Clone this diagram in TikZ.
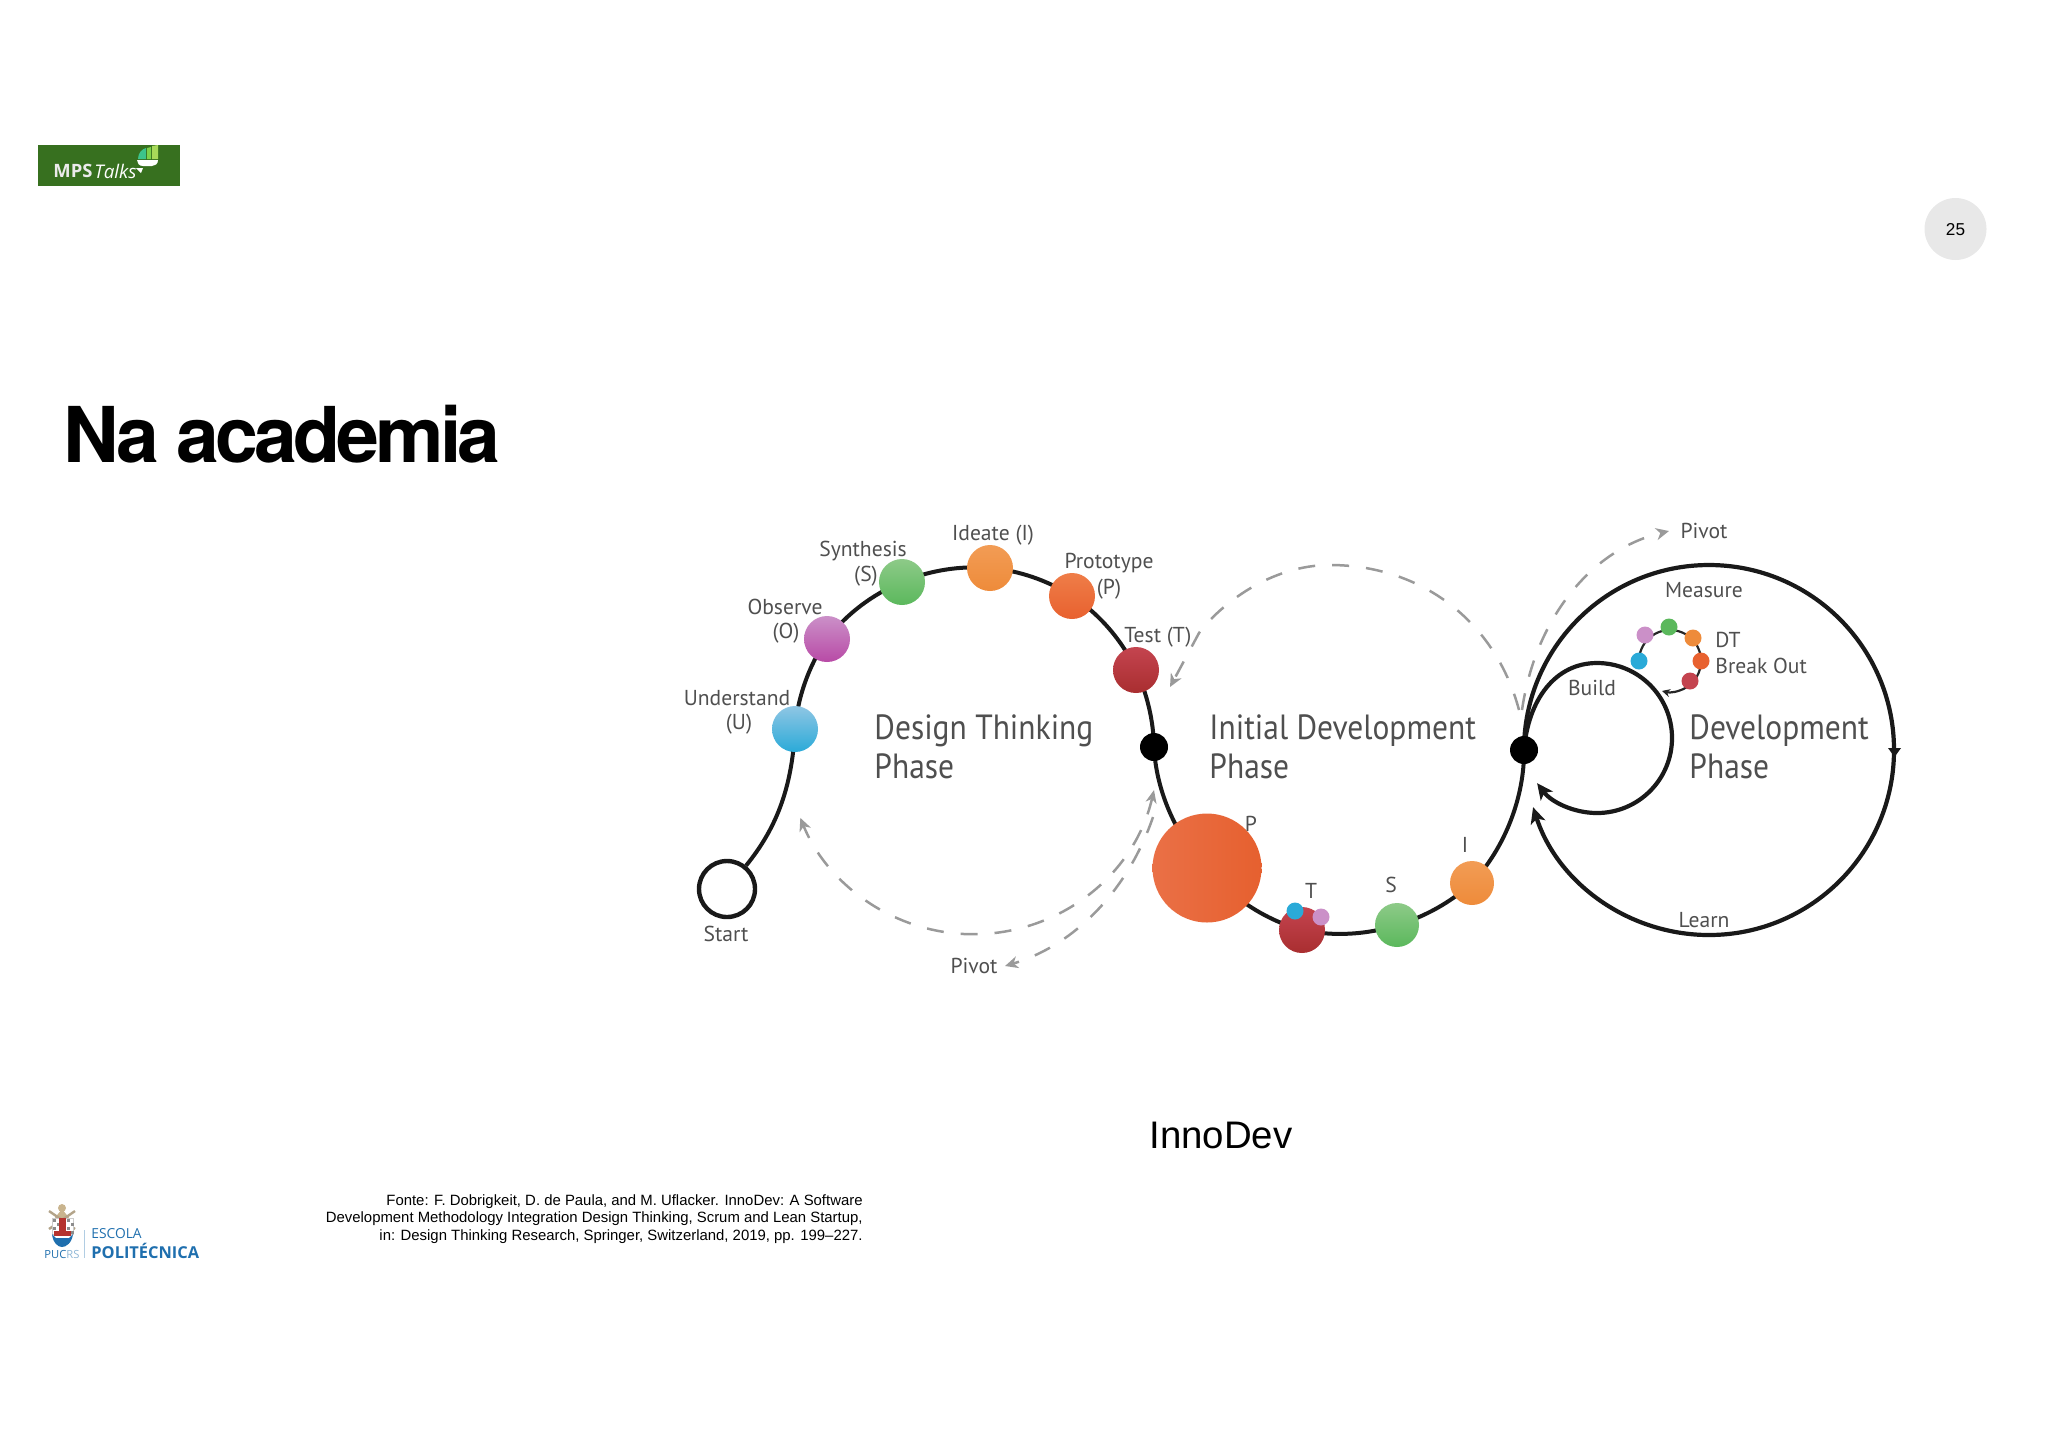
\documentclass[tikz,border=0pt]{standalone}
\usepackage{fontspec}
\setmainfont{Liberation Sans}
\newfontfamily\heros{TeX Gyre Heros}[LetterSpace=-5]
\newfontfamily\diag{PT Sans}
\newfontfamily\diagphase{PT Sans}[FakeStretch=0.9]
\newfontfamily\logofont{Open Sans}
\usetikzlibrary{arrows.meta,backgrounds,calc}
\definecolor{lblgrey}{HTML}{4F4F4F}
\definecolor{dashgrey}{HTML}{9A9A9A}
\definecolor{mpsgreen}{HTML}{37701F}
\definecolor{pucblue}{HTML}{1F6FAE}
\definecolor{cresttan}{HTML}{C9B48E}
\definecolor{crestred}{HTML}{B5332E}
\definecolor{leafA}{HTML}{3CC48C}\definecolor{leafB}{HTML}{7ED24A}\definecolor{leafC}{HTML}{A8D95A}
\definecolor{uTop}{HTML}{8FC6E4}\definecolor{uBot}{HTML}{2AAAD8}
\definecolor{oTop}{HTML}{CB90C8}\definecolor{oBot}{HTML}{B84AA6}
\definecolor{sTop}{HTML}{8DCA88}\definecolor{sBot}{HTML}{5BB85C}
\definecolor{iTop}{HTML}{F29C55}\definecolor{iBot}{HTML}{EE8B3A}
\definecolor{pTop}{HTML}{EF7D48}\definecolor{pBot}{HTML}{E8612F}
\definecolor{tTop}{HTML}{C4444F}\definecolor{tBot}{HTML}{A92E30}
\definecolor{bigL}{HTML}{EA7046}\definecolor{bigR}{HTML}{E6602F}
\tikzset{
  x=0.5pt,y=0.5pt,
  mainline/.style={draw=black!90,line width=2pt},
  pivotline/.style={draw=dashgrey,line width=1.25pt,dash pattern=on 8.5pt off 8.5pt},
  grtip/.style={-{Stealth[length=6.5pt,width=6pt,inset=2pt,color=dashgrey]}},
  dot/.style={circle,inner sep=0pt,minimum size=#1},
  sdot/.style={circle,inner sep=0pt,minimum size=8.5pt},
  hub/.style={circle,fill=black,inner sep=0pt,minimum size=14pt},
  lab/.style={text=lblgrey,font=\diag\fontsize{10.8}{13}\selectfont,inner sep=0pt,yshift=-0.8pt},
  phase/.style={text=lblgrey,font=\diagphase\fontsize{17.5}{19.6}\selectfont,inner sep=0pt,anchor=west,align=left},
}
\begin{document}
\begin{tikzpicture}
\useasboundingbox (0,0) rectangle (2048,-1447);
% ---- main circles of stations
\node[draw=black!90,line width=2.2pt,fill=white,circle,inner sep=0pt,minimum size=28pt] (start) at (727,-889) {};
\node[dot=23pt,top color=uTop,bottom color=uBot] (und) at (795,-729) {};
\node[dot=23pt,top color=oTop,bottom color=oBot] (obs) at (827,-639) {};
\node[dot=23pt,top color=sTop,bottom color=sBot] (syn) at (902,-582) {};
\node[dot=23pt,top color=iTop,bottom color=iBot] (ide) at (990,-568) {};
\node[dot=23pt,top color=pTop,bottom color=pBot] (pro) at (1072,-596) {};
\node[dot=23pt,top color=tTop,bottom color=tBot] (tes) at (1136,-670) {};
\node[hub] (hubA) at (1154,-747) {};
\node[dot=54.5pt,left color=bigL,right color=bigR] (bigP) at (1207,-868) {};
\node[dot=23pt,top color=tTop,bottom color=tBot] (iT) at (1302,-930) {};
\node[dot=8.5pt,fill=uBot] (iTa) at (1295,-911) {};
\node[dot=8.5pt,fill=oTop] (iTb) at (1321,-917) {};
\node[dot=22pt,top color=sTop,bottom color=sBot] (iS) at (1397,-925) {};
\node[dot=22pt,top color=iTop,bottom color=iBot] (iI) at (1472,-883) {};
\node[hub] (hubB) at (1524,-750) {};
% small DT loop
\node[sdot,fill=uBot] (dtU) at (1639,-661) {};
\node[sdot,fill=oTop] (dtO) at (1645,-635) {};
\node[sdot,fill=sBot] (dtS) at (1669,-627) {};
\node[sdot,fill=iBot] (dtI) at (1693,-638) {};
\node[sdot,fill=pBot] (dtP) at (1701,-661) {};
\node[sdot,fill=tTop] (dtT) at (1690,-681) {};
% free ends
\coordinate (dtPivStart) at (1154,-790);
\coordinate (outPivStart) at (1153,-817);
\coordinate (outPivEnd) at (1005,-966);
\coordinate (idPivStart) at (1519,-710);
\coordinate (idPivTop) at (1330,-565);
\coordinate (idPivBend) at (1199,-633);
\coordinate (idPivEnd) at (1170,-687);
\coordinate (devPivEnd) at (1669,-531);
\begin{scope}[on background layer]
  \draw[mainline] (start) .. controls (775,-830) and (792,-790) .. (und.center);
  \begin{scope}[looseness=0.85]
  \draw[mainline] (und.center) to[bend left=15] (obs.center);
  \draw[mainline] (obs.center) to[bend left=15] (syn.center);
  \draw[mainline] (syn.center) to[bend left=14] (ide.center);
  \draw[mainline] (ide.center) to[bend left=14] (pro.center);
  \draw[mainline] (pro.center) to[bend left=16] (tes.center);
  \draw[mainline] (tes.center) to[bend left=12] (hubA.center);
  \draw[mainline] (hubA.center) to[bend right=21] (bigP.center);
  \draw[mainline] (bigP.center) to[bend right=18] (iT.center);
  \draw[mainline] (iT.center) to[bend right=15] (iS.center);
  \draw[mainline] (iS.center) to[bend right=13] (iI.center);
  \draw[mainline] (iI.center) to[bend right=22] (hubB.center);
  \end{scope}
  % dashed pivots
  \draw[pivotline,{Stealth[length=6.5pt,width=5.5pt,inset=2pt,color=dashgrey]}-{Stealth[length=6.5pt,width=6pt,inset=2pt,color=dashgrey]}]
     (dtPivStart) arc[start angle=-13,end angle=-158,radius=186];
  \draw[pivotline,grtip] (outPivStart) .. controls (1128,-890) and (1075,-945) .. (outPivEnd);
  \draw[pivotline,grtip] (idPivStart) .. controls (1495,-620) and (1420,-565) .. (idPivTop) .. controls (1270,-565) and (1220,-605) .. (idPivBend) -- (idPivEnd);
  \draw[pivotline,grtip] (hubB.center) ++(-2,40) .. controls (1535,-620) and (1590,-550) .. (devPivEnd);
  % development loops
  \draw[mainline,line width=2.1pt,-{Stealth[length=8pt,width=7.5pt,inset=2pt]}] (hubB.center) arc[start angle=180,end angle=-162,radius=185];
  \draw[mainline,line width=2.1pt,-{Stealth[length=8pt,width=7.5pt,inset=2pt]}] (hubB.center) .. controls (1528,-700) and (1555,-663) .. (1597,-663) arc[start angle=90,end angle=-143,radius=75];
  \draw[draw=black!85,line width=1.1pt,-{Stealth[length=4pt,width=4pt]}] (dtU.center) arc[start angle=180,end angle=-105,radius=31];
\end{scope}
\fill[black!90] (1888,-748) -- (1901,-748) -- (1894.5,-757) -- cycle;
% ---- labels
\node[lab] (lSyn) at (863,-549) {Synthesis};
\node[lab] (lSynb) at (866,-575) {(S)};
\node[lab] (lIde) at (993,-534) {Ideate (I)};
\node[lab] (lPro) at (1109,-561) {Prototype};
\node[lab] (lProb) at (1109,-588) {(P)};
\node[lab] (lObs) at (785,-605) {Observe};
\node[lab] (lObsb) at (786,-632) {(O)};
\node[lab] (lUnd) at (737,-696) {Understand};
\node[lab] (lUndb) at (739,-723) {(U)};
\node[lab] (lTes) at (1158,-636) {Test (T)};
\node[lab] (lSta) at (726,-932) {Start};
\node[lab] (lPivA) at (974,-964) {Pivot};
\node[lab] (lP) at (1251,-822) {P};
\node[lab] (lT) at (1311,-889) {T};
\node[lab] (lS) at (1391,-883) {S};
\node[lab] (lI) at (1465,-843) {I};
\node[lab] (lMea) at (1704,-588.5) {Measure};
\node[lab] (lLea) at (1704,-918) {Learn};
\node[lab] (lBui) at (1592,-686.5) {Build};
\node[lab,anchor=west] (lDT) at (1715,-638.5) {DT};
\node[lab,anchor=west] (lBO) at (1715,-664.5) {Break Out};
\node[lab] (lPivB) at (1704,-529) {Pivot};
\node[phase] (phA) at (874,-747) {Design Thinking\\Phase};
\node[phase] (phB) at (1209,-747) {Initial Development\\Phase};
\node[phase] (phC) at (1689,-747) {Development\\Phase};
% ---- slide furniture
\node[inner sep=0pt,anchor=west,font=\heros\bfseries\fontsize{38.5}{42}\selectfont] (title) at (63,-434) {Na academia};
\node[inner sep=0pt,font=\fontsize{19.2}{22}\selectfont] (inno) at (1221,-1135) {InnoDev};
\node[inner sep=0pt,anchor=north east,align=right,font=\fontsize{7.45}{8.75}\selectfont] (src) at (863,-1194)
  {Fonte: F. Dobrigkeit, D. de Paula, and M. Uflacker. InnoDev: A Software\\
   Development Methodology Integration Design Thinking, Scrum and Lean Startup,\\
   in: Design Thinking Research, Springer, Switzerland, 2019, pp. 199–227.};
\node[circle,fill=black!9,inner sep=0pt,minimum size=31pt] (pg) at (1955.5,-229) {};
\node[inner sep=0pt,font=\fontsize{8.6}{10}\selectfont] (pgn) at (1955.5,-230) {25};
% MPS logo
\fill[mpsgreen] (38,-145) rectangle (180,-186);
\fill[leafA] (138,-159) .. controls (138,-153) and (142,-149) .. (146,-148) -- (146,-159) -- cycle;
\fill[leafB] (147,-148) -- (151,-147) -- (151,-159) -- (147,-159) -- cycle;
\fill[leafC] (152,-146) -- (158,-145) -- (158,-159) -- (152,-159) -- cycle;
\fill[white] (137,-160) -- (158,-160) .. controls (158,-164) and (155,-166) .. (152,-166) -- (143,-166) .. controls (139,-166) and (137,-163) .. (137,-160) -- cycle;
\fill[white] (136,-168) -- (143,-168) -- (141,-173) -- cycle;
\node[inner sep=0pt,anchor=west,text=black!8,font=\logofont\bfseries\fontsize{9.2}{10}\selectfont] (mps) at (53,-171) {MPS};
\node[inner sep=0pt,anchor=west,text=white,font=\logofont\itshape\fontsize{9.4}{10}\selectfont] (talks) at (94,-171) {Talks};
% PUCRS logo
\fill[cresttan] (62,-1208) circle[radius=4];
\fill[cresttan] (54,-1219) -- (62,-1209) -- (70,-1219) -- cycle;
\draw[cresttan!70!gray,line width=1.2pt] (49,-1211) -- (75,-1229);
\draw[cresttan!70!gray,line width=1.2pt] (75,-1211) -- (49,-1229);
\fill[white,draw=gray!40,line width=0.3pt] (52,-1218) rectangle (73,-1234);
\foreach \cx/\cy in {53/-1219,57/-1223,53/-1227,57/-1231,67/-1219,71/-1223,67/-1227,71/-1231}
  \fill[black!45] (\cx,\cy) rectangle +(2.5,-2.5);
\fill[crestred] (59,-1218) rectangle (66,-1235);
\fill[crestred] (54,-1231) -- (71,-1231) -- (71,-1236) -- (54,-1236) -- cycle;
\fill[pucblue] (52,-1234) .. controls (53,-1243) and (58,-1247) .. (62,-1247) .. controls (66,-1247) and (72,-1243) .. (73,-1234) -- (69,-1238) -- (56,-1238) -- cycle;
\node[inner sep=0pt,font=\logofont\fontsize{5.6}{6}\selectfont] (puc) at (62,-1254) {\textcolor{pucblue}{PUC}\textcolor{pucblue!50}{RS}};
\draw[pucblue!35,line width=0.5pt] (84,-1230) -- (84,-1258);
\node[inner sep=0pt,anchor=west,text=pucblue,font=\logofont\fontsize{6.9}{8}\selectfont] (esc) at (91,-1234) {ESCOLA};
\node[inner sep=0pt,anchor=west,text=pucblue,font=\logofont\bfseries\fontsize{8.2}{10}\selectfont] (pol) at (91,-1251) {POLITÉCNICA};
\end{tikzpicture}
\end{document}
